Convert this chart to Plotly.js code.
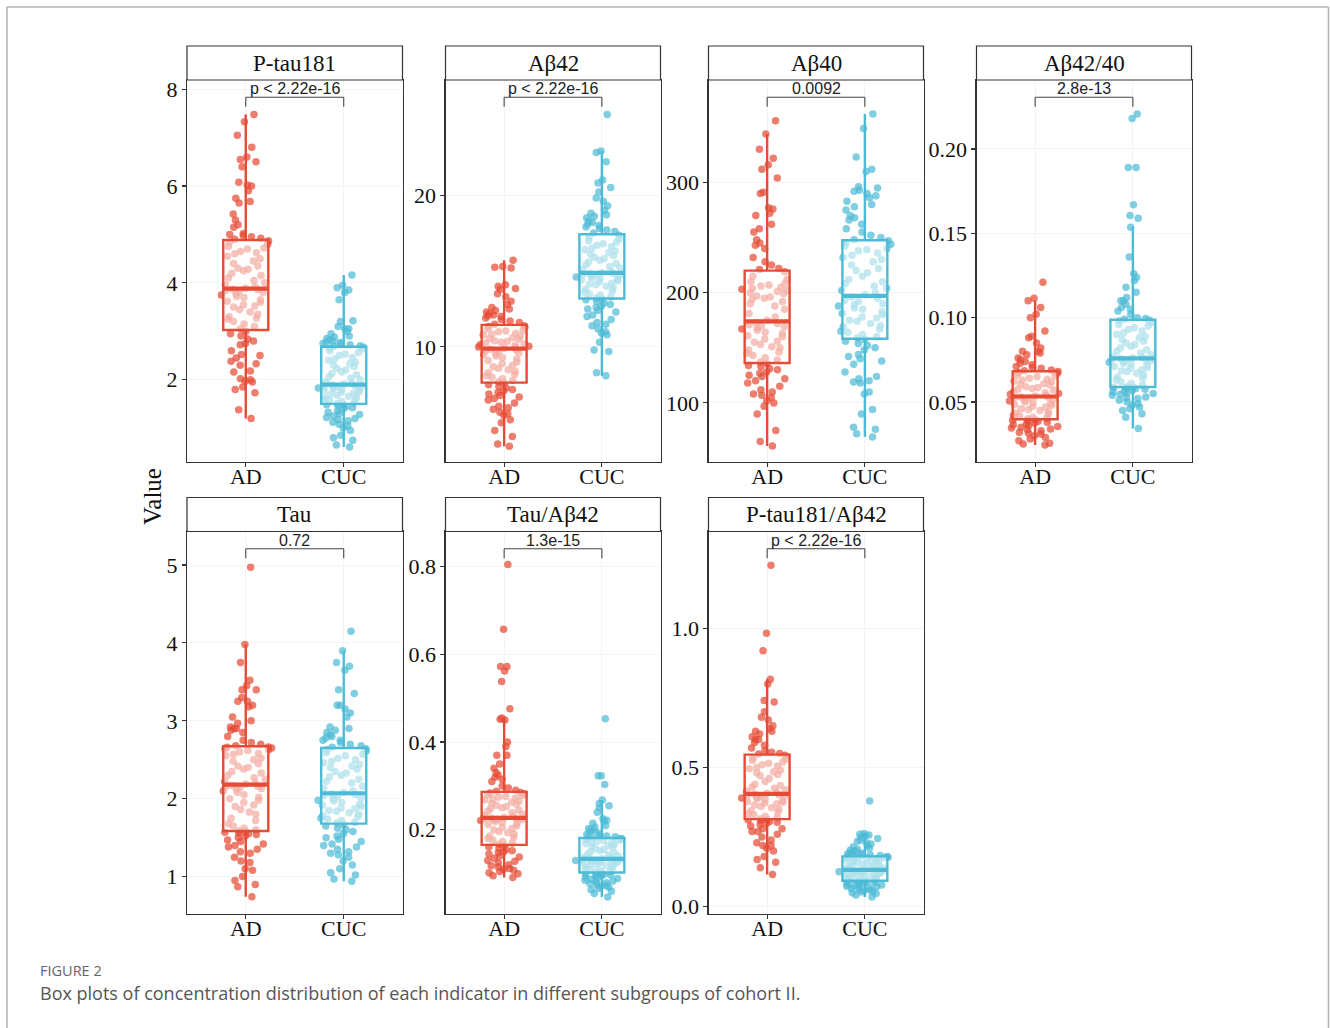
<!DOCTYPE html>
<html>
<head>
<meta charset="utf-8">
<script src="https://cdn.plot.ly/plotly-3.0.1.min.js"></script>
<style>html,body{margin:0;padding:0;background:#fff;}#chart{width:1330px;height:1028px;}</style>
</head>
<body>
<div id="chart"></div>
<script>
// ---------------- DATA ----------------
const groups = ['AD', 'CUC'];
const panelTitles = ['P-tau181', 'Aβ42', 'Aβ40', 'Aβ42/40', 'Tau', 'Tau/Aβ42', 'P-tau181/Aβ42'];
const pLabels = ['p < 2.22e-16', 'p < 2.22e-16', '0.0092', '2.8e-13', '0.72', '1.3e-15', 'p < 2.22e-16'];

const ptau181_AD = [1.2,1.38,1.73,1.8,1.85,1.95,1.97,2.0,2.02,2.16,2.18,2.3,2.33,2.38,2.45,2.5,2.52,2.6,2.72,2.75,2.8,2.84,2.9,2.95,3.0,
 3.05,3.1,3.15,3.2,3.25,3.27,3.3,3.35,3.4,3.45,3.5,3.52,3.55,3.6,3.62,3.65,3.7,3.72,3.75,3.78,3.8,3.82,3.84,3.86,3.87,
 3.89,3.92,3.96,4.0,4.05,4.1,4.15,4.2,4.25,4.28,4.3,4.35,4.4,4.45,4.5,4.55,4.6,4.62,4.65,4.7,4.72,4.75,4.8,4.84,4.87,
 4.9,4.92,4.95,4.98,5.0,5.02,5.15,5.2,5.3,5.42,5.65,5.68,5.75,5.9,6.0,6.02,6.08,6.4,6.5,6.55,6.6,6.8,7.05,7.33,7.48];
const ptau181_CUC = [0.61,0.65,0.75,0.8,0.85,0.95,1.0,1.05,1.08,1.12,1.15,1.18,1.2,1.22,1.25,1.28,1.3,1.33,1.36,1.4,1.42,1.44,1.46,1.48,1.49,
 1.51,1.53,1.55,1.57,1.59,1.6,1.62,1.64,1.66,1.68,1.7,1.72,1.74,1.75,1.77,1.78,1.8,1.82,1.83,1.84,1.85,1.86,1.87,1.88,1.89,
 1.91,1.93,1.96,2.0,2.03,2.06,2.1,2.13,2.16,2.2,2.23,2.27,2.3,2.33,2.36,2.4,2.43,2.46,2.5,2.53,2.56,2.6,2.63,2.65,2.67,
 2.69,2.7,2.72,2.74,2.75,2.77,2.78,2.8,2.82,2.85,2.88,2.9,2.95,3.0,3.05,3.05,3.1,3.2,3.22,3.65,3.8,3.85,3.9,3.95,4.16];

const ab42_AD = [3.45,3.6,4.1,4.5,5.0,5.2,5.5,5.6,5.7,5.9,6.0,6.1,6.3,6.5,6.6,6.7,6.8,6.9,7.0,7.1,7.2,7.3,7.4,7.5,7.6,
 7.7,7.8,7.9,8.0,8.1,8.2,8.3,8.4,8.5,8.6,8.7,8.8,8.9,9.0,9.1,9.2,9.3,9.4,9.5,9.55,9.6,9.7,9.75,9.8,9.85,
 9.92,9.96,10.0,10.05,10.1,10.15,10.2,10.25,10.3,10.35,10.4,10.5,10.55,10.6,10.7,10.8,10.85,10.9,11.0,11.05,11.1,11.2,11.3,11.35,11.4,
 11.5,11.6,11.7,11.8,11.9,12.0,12.05,12.1,12.2,12.3,12.4,12.5,12.6,12.8,13.0,13.3,13.5,13.8,13.85,14.0,14.1,15.2,15.25,15.3,15.7];
const ab42_CUC = [8.1,8.3,9.7,9.8,10.3,10.8,10.9,11.0,11.2,11.4,11.5,11.6,11.8,12.0,12.1,12.3,12.4,12.5,12.6,12.7,12.8,12.9,13.0,13.1,13.15,
 13.22,13.3,13.4,13.5,13.6,13.7,13.8,13.9,14.0,14.1,14.15,14.2,14.3,14.35,14.4,14.45,14.5,14.55,14.6,14.65,14.7,14.75,14.8,14.83,14.86,
 14.9,15.0,15.1,15.2,15.3,15.4,15.5,15.6,15.7,15.8,15.9,16.0,16.1,16.2,16.3,16.4,16.5,16.6,16.7,16.8,16.9,17.0,17.1,17.2,17.35,
 17.5,17.6,17.7,17.8,17.9,18.0,18.1,18.2,18.3,18.5,18.6,18.7,18.8,19.0,19.3,19.6,19.8,20.2,20.5,20.8,21.0,22.2,22.8,22.9,25.3];

const ab40_AD = [61,65,75,90,97,100,102,105,107,108,110,112,115,118,120,122,124,125,127,128,130,131,133,134,135.5,
 137,139,141,143,145,146,148,150,151,153,155,156,158,160,161,163,164,166,167,168,169,170,171,172,173,
 175,178,181,185,188,190,192,194,195,196,197,199,200,201,202,203,204,205,206,207,208,210,212,215,219,
 221,222,225,228,232,240,243,245,248,255,258,262,270,272,276,277,290,291,304,312,316,322,330,344,356];
const ab40_CUC = [69,72,76,78,90,94,108,110,118,119,120,122,124,128,135,138,140,142,144,148,150,152,154,156,157.5,
 159,160,162,164,165,167,169,170,172,174,175,177,178,180,181,183,185,186,188,189,190,192,193,195,196,
 198,200,202,204,206,208,210,212,215,218,220,222,225,228,230,232,234,236,238,239,240,242,244,245,247,
 248,250,252,255,258,262,266,268,270,275,278,280,283,286,288,290,292,293,295,296,310,312,323,349,362];

const ab4240_AD = [0.0245,0.025,0.0255,0.027,0.028,0.029,0.030,0.031,0.0315,0.032,0.033,0.0335,0.034,0.0345,0.035,0.0355,0.036,0.0365,0.037,0.0375,0.038,0.0385,0.039,0.0392,0.0395,
 0.040,0.0405,0.041,0.0415,0.042,0.043,0.0435,0.044,0.045,0.0455,0.046,0.047,0.0475,0.048,0.0485,0.049,0.0495,0.050,0.0505,0.051,0.0515,0.052,0.0525,0.0528,0.053,
 0.0535,0.054,0.0545,0.055,0.0555,0.056,0.057,0.0575,0.058,0.0585,0.059,0.060,0.0605,0.061,0.062,0.0625,0.063,0.0635,0.064,0.065,0.0655,0.066,0.067,0.0675,0.068,
 0.0685,0.069,0.070,0.0705,0.071,0.072,0.073,0.074,0.075,0.076,0.078,0.079,0.080,0.080,0.082,0.085,0.088,0.089,0.092,0.100,0.102,0.106,0.110,0.1115,0.121];
const ab4240_CUC = [0.0342,0.041,0.043,0.045,0.046,0.047,0.048,0.049,0.050,0.051,0.052,0.0525,0.053,0.054,0.0545,0.055,0.0555,0.056,0.0565,0.057,0.0575,0.058,0.0583,0.0585,0.0588,
 0.059,0.060,0.061,0.062,0.063,0.064,0.065,0.066,0.067,0.068,0.0685,0.069,0.070,0.0705,0.071,0.072,0.0725,0.073,0.0735,0.074,0.0745,0.075,0.0752,0.0755,0.0757,
 0.076,0.0765,0.077,0.078,0.079,0.080,0.081,0.082,0.083,0.084,0.085,0.086,0.087,0.088,0.089,0.090,0.091,0.092,0.093,0.094,0.095,0.096,0.097,0.098,0.0985,
 0.099,0.0995,0.100,0.102,0.104,0.105,0.106,0.108,0.110,0.110,0.112,0.115,0.118,0.122,0.124,0.126,0.136,0.1536,0.159,0.1605,0.167,0.189,0.189,0.218,0.2207];

const tau_AD = [0.74,0.87,0.9,0.95,1.0,1.08,1.1,1.18,1.2,1.25,1.3,1.32,1.35,1.38,1.4,1.42,1.45,1.47,1.5,1.52,1.54,1.55,1.56,1.57,1.58,
 1.59,1.6,1.62,1.65,1.68,1.72,1.75,1.8,1.83,1.86,1.9,1.92,1.95,1.98,2.0,2.02,2.05,2.08,2.1,2.12,2.13,2.14,2.15,2.16,2.17,
 2.19,2.2,2.22,2.25,2.27,2.3,2.33,2.35,2.38,2.4,2.42,2.45,2.48,2.5,2.52,2.55,2.57,2.58,2.6,2.62,2.63,2.64,2.65,2.66,2.665,
 2.68,2.7,2.72,2.75,2.8,2.85,2.88,2.9,2.9,2.92,2.97,3.0,3.05,3.18,3.2,3.25,3.25,3.3,3.4,3.4,3.45,3.52,3.75,3.98,4.97];
const tau_CUC = [0.94,0.97,1.02,1.05,1.1,1.15,1.2,1.25,1.28,1.3,1.32,1.35,1.38,1.4,1.42,1.45,1.48,1.5,1.52,1.55,1.58,1.6,1.62,1.65,1.67,
 1.69,1.7,1.72,1.74,1.75,1.77,1.78,1.8,1.82,1.84,1.85,1.87,1.88,1.9,1.92,1.93,1.95,1.97,1.98,2.0,2.01,2.03,2.04,2.05,2.06,
 2.08,2.1,2.13,2.16,2.2,2.22,2.25,2.28,2.3,2.33,2.35,2.38,2.4,2.42,2.44,2.46,2.48,2.5,2.52,2.55,2.57,2.59,2.61,2.63,2.64,
 2.66,2.68,2.7,2.72,2.75,2.75,2.78,2.8,2.82,2.85,2.88,2.9,2.92,3.05,3.1,3.15,3.2,3.2,3.35,3.4,3.65,3.7,3.75,3.9,4.15];

const tauab42_AD = [0.0913,0.095,0.1,0.102,0.105,0.108,0.11,0.112,0.115,0.118,0.12,0.125,0.128,0.13,0.135,0.138,0.14,0.145,0.148,0.15,0.152,0.155,0.158,0.161,0.164,
 0.167,0.17,0.173,0.176,0.18,0.183,0.186,0.19,0.193,0.196,0.2,0.203,0.206,0.209,0.212,0.215,0.217,0.219,0.221,0.222,0.223,0.224,0.225,0.2255,0.226,
 0.228,0.23,0.233,0.236,0.239,0.242,0.245,0.248,0.25,0.253,0.256,0.258,0.26,0.263,0.265,0.268,0.27,0.272,0.274,0.276,0.278,0.28,0.282,0.284,0.285,
 0.288,0.29,0.295,0.3,0.31,0.315,0.32,0.325,0.33,0.34,0.35,0.37,0.37,0.39,0.4,0.45,0.452,0.455,0.476,0.538,0.562,0.572,0.572,0.657,0.805];
const tauab42_CUC = [0.047,0.055,0.06,0.063,0.066,0.069,0.071,0.073,0.075,0.077,0.079,0.081,0.083,0.085,0.087,0.089,0.09,0.092,0.094,0.095,0.097,0.098,0.099,0.1,0.102,
 0.1035,0.105,0.107,0.109,0.111,0.113,0.115,0.117,0.118,0.12,0.121,0.122,0.124,0.125,0.126,0.127,0.128,0.129,0.13,0.131,0.1315,0.132,0.1325,0.133,0.1335,
 0.134,0.136,0.138,0.14,0.143,0.145,0.148,0.15,0.152,0.155,0.157,0.16,0.162,0.164,0.166,0.168,0.17,0.172,0.174,0.175,0.176,0.177,0.178,0.179,0.1805,
 0.182,0.184,0.186,0.188,0.19,0.192,0.195,0.198,0.2,0.203,0.206,0.21,0.215,0.22,0.222,0.225,0.24,0.25,0.255,0.26,0.268,0.303,0.323,0.323,0.453];

const ptauab42_AD = [0.116,0.14,0.16,0.17,0.18,0.2,0.21,0.22,0.22,0.23,0.24,0.25,0.26,0.27,0.27,0.28,0.28,0.29,0.295,0.3,0.303,0.306,0.309,0.311,0.313,
 0.316,0.32,0.325,0.33,0.335,0.34,0.345,0.35,0.355,0.36,0.365,0.37,0.372,0.375,0.378,0.38,0.385,0.388,0.39,0.393,0.396,0.398,0.4,0.402,0.404,
 0.407,0.41,0.415,0.42,0.425,0.43,0.435,0.44,0.45,0.46,0.47,0.475,0.48,0.485,0.49,0.495,0.5,0.505,0.51,0.515,0.52,0.525,0.53,0.535,0.544,
 0.548,0.55,0.555,0.56,0.57,0.58,0.59,0.6,0.6,0.61,0.62,0.63,0.63,0.64,0.65,0.67,0.68,0.7,0.735,0.74,0.8,0.817,0.919,0.982,1.226];
const ptauab42_CUC = [0.035,0.042,0.048,0.05,0.053,0.055,0.058,0.06,0.062,0.065,0.067,0.07,0.072,0.074,0.076,0.078,0.08,0.082,0.084,0.086,0.088,0.089,0.09,0.092,0.093,
 0.094,0.096,0.098,0.1,0.102,0.104,0.106,0.108,0.11,0.112,0.114,0.116,0.118,0.12,0.121,0.122,0.124,0.125,0.126,0.127,0.128,0.129,0.13,0.131,0.1315,
 0.133,0.135,0.138,0.14,0.143,0.145,0.148,0.15,0.152,0.155,0.157,0.16,0.162,0.164,0.166,0.168,0.17,0.172,0.174,0.175,0.176,0.177,0.178,0.179,0.18,
 0.182,0.184,0.186,0.188,0.19,0.192,0.195,0.198,0.2,0.203,0.206,0.21,0.215,0.22,0.225,0.23,0.235,0.24,0.245,0.25,0.255,0.258,0.26,0.263,0.38];

const panelData = [
  [ptau181_AD, ptau181_CUC], [ab42_AD, ab42_CUC], [ab40_AD, ab40_CUC], [ab4240_AD, ab4240_CUC],
  [tau_AD, tau_CUC], [tauab42_AD, tauab42_CUC], [ptauab42_AD, ptauab42_CUC]
];

// ---------------- STYLE / LAYOUT CONFIG ----------------
const W = 1330, H = 1028;
const colors = ['#E64B35', '#4DBBD5'];
const colX = [[187, 402.5], [445.5, 660.5], [708.5, 923.5], [976.5, 1191.5]];
const rowY = [{strip: [46, 80], plot: [80, 462]}, {strip: [497.5, 531.5], plot: [531.5, 914]}];
const axisCfg = [
  {range: [0.30, 8.19], dtick: 2, fmt: ''},
  {range: [2.42, 27.58], dtick: 10, fmt: ''},
  {range: [46.4, 392.9], dtick: 100, fmt: ''},
  {range: [0.0144, 0.2409], dtick: 0.05, fmt: '.2f'},
  {range: [0.52, 5.43], dtick: 1, fmt: ''},
  {range: [0.008, 0.88], dtick: 0.2, fmt: '.1f'},
  {range: [-0.026, 1.347], dtick: 0.5, fmt: '.1f'}
];
const serif = 'Liberation Serif, Times New Roman, serif';
const sans = 'Liberation Sans, Arial, sans-serif';
const frameCol = '#333333';
const boxW = 0.46;
const jitterW = 0.55;

function median(a) {
  const s = a.slice().sort((p, q) => p - q);
  const n = s.length;
  return n % 2 ? s[(n - 1) / 2] : (s[n / 2 - 1] + s[n / 2]) / 2;
}

const traces = [];
const shapes = [];
const annotations = [];
const layout = {
  width: W, height: H,
  margin: {l: 0, r: 0, t: 0, b: 0},
  paper_bgcolor: '#ffffff', plot_bgcolor: '#ffffff',
  showlegend: false,
  boxmode: 'overlay',
  hovermode: false
};

panelData.forEach((pair, i) => {
  const k = i + 1;
  const row = i < 4 ? 0 : 1;
  const col = i < 4 ? i : i - 4;
  const [x0, x1] = colX[col];
  const ry = rowY[row];
  const xa = 'x' + (k === 1 ? '' : k), ya = 'y' + (k === 1 ? '' : k);
  const xKey = 'xaxis' + (k === 1 ? '' : k), yKey = 'yaxis' + (k === 1 ? '' : k);
  const cfg = axisCfg[i];

  layout[xKey] = {
    domain: [x0 / W, x1 / W], anchor: ya, type: 'linear',
    range: [-0.6, 1.6], tickvals: [0, 1], ticktext: groups,
    showline: true, mirror: true, linecolor: frameCol, linewidth: 1.2,
    ticks: 'outside', ticklen: 4, tickwidth: 1.1, tickcolor: frameCol,
    ticklabelstandoff: -10,
    tickfont: {family: serif, size: 22, color: '#111'},
    showgrid: true, gridcolor: '#f4f4f4', gridwidth: 1, zeroline: false, fixedrange: true
  };
  layout[yKey] = {
    domain: [1 - ry.plot[1] / H, 1 - ry.plot[0] / H], anchor: xa, type: 'linear',
    range: cfg.range, dtick: cfg.dtick, tick0: 0, tickformat: cfg.fmt,
    showline: true, mirror: true, linecolor: frameCol, linewidth: 1.2,
    ticks: 'outside', ticklen: 4, tickwidth: 1.1, tickcolor: frameCol,
    tickfont: {family: serif, size: 22, color: '#111'},
    showgrid: true, gridcolor: '#f4f4f4', gridwidth: 1, zeroline: false, fixedrange: true
  };

  pair.forEach((vals, g) => {
    // jittered points
    traces.push({
      type: 'box', y: vals, x0: g, xaxis: xa, yaxis: ya, width: jitterW,
      boxpoints: 'all', jitter: 1, pointpos: 0,
      marker: {color: colors[g], size: 7.5, opacity: 0.72, line: {width: 0}},
      line: {width: 0, color: 'rgba(0,0,0,0)'}, fillcolor: 'rgba(0,0,0,0)',
      whiskerwidth: 0, hoverinfo: 'skip'
    });
  });
  pair.forEach((vals, g) => {
    // box with semi-transparent white fill on top of points
    traces.push({
      type: 'box', y: vals, x0: g, xaxis: xa, yaxis: ya, width: boxW,
      boxpoints: 'outliers', marker: {opacity: 0, size: 1},
      line: {width: 2.4, color: colors[g]}, fillcolor: 'rgba(255,255,255,0.55)',
      whiskerwidth: 0, hoverinfo: 'skip'
    });
  });
  pair.forEach((vals, g) => {
    const m = median(vals);
    traces.push({
      type: 'scatter', mode: 'lines', xaxis: xa, yaxis: ya,
      x: [g - boxW / 2, g + boxW / 2], y: [m, m],
      line: {color: colors[g], width: 4.2}, hoverinfo: 'skip'
    });
  });

  // strip
  shapes.push({type: 'rect', xref: 'paper', yref: 'paper',
    x0: x0 / W, x1: x1 / W, y0: 1 - ry.strip[1] / H, y1: 1 - ry.strip[0] / H,
    fillcolor: '#ffffff', line: {color: frameCol, width: 1.2}});
  annotations.push({xref: 'paper', yref: 'paper', x: (x0 + x1) / 2 / W,
    y: 1 - (ry.strip[0] + ry.strip[1]) / 2 / H, xanchor: 'center', yanchor: 'middle',
    text: panelTitles[i], showarrow: false, font: {family: serif, size: 23, color: '#111'}});

  // significance bracket
  const yb = 0.955, yt = 0.930;
  const br = {xref: xa, yref: ya + ' domain', line: {color: '#444', width: 1.1}, type: 'line'};
  shapes.push(Object.assign({}, br, {x0: 0, x1: 1, y0: yb, y1: yb}));
  shapes.push(Object.assign({}, br, {x0: 0, x1: 0, y0: yb, y1: yt}));
  shapes.push(Object.assign({}, br, {x0: 1, x1: 1, y0: yb, y1: yt}));
  annotations.push({xref: xa, yref: ya + ' domain', x: 0.5, y: yb, yshift: -2,
    xanchor: 'center', yanchor: 'bottom', text: pLabels[i], showarrow: false,
    font: {family: sans, size: 16, color: '#222'}});
});

// y-axis title
annotations.push({xref: 'paper', yref: 'paper', x: 152 / W, y: 1 - 497 / H,
  xanchor: 'center', yanchor: 'middle', textangle: -90, text: 'Value', showarrow: false,
  font: {family: serif, size: 25, color: '#111'}});

// caption
annotations.push({xref: 'paper', yref: 'paper', x: 38 / W, y: 1 - 970 / H,
  xanchor: 'left', yanchor: 'middle', text: 'FIGURE 2', showarrow: false,
  font: {family: 'Open Sans, Noto Sans, sans-serif', size: 14.5, color: '#666'}});
annotations.push({xref: 'paper', yref: 'paper', x: 38 / W, y: 1 - 993 / H,
  xanchor: 'left', yanchor: 'middle',
  text: 'Box plots of concentration distribution of each indicator in different subgroups of cohort II.',
  showarrow: false, font: {family: 'Open Sans, Noto Sans, sans-serif', size: 18, color: '#555'}});

// outer frame
const fr = {type: 'line', xref: 'paper', yref: 'paper', line: {color: '#b4b4b4', width: 1.6}};
shapes.push(Object.assign({}, fr, {x0: 7 / W, x1: 1328.5 / W, y0: 1 - 7 / H, y1: 1 - 7 / H}));
shapes.push(Object.assign({}, fr, {x0: 7 / W, x1: 7 / W, y0: 1 - 7 / H, y1: 0}));
shapes.push(Object.assign({}, fr, {x0: 1328.5 / W, x1: 1328.5 / W, y0: 1 - 7 / H, y1: 0}));

layout.shapes = shapes;
layout.annotations = annotations;

Plotly.newPlot('chart', traces, layout, {staticPlot: true, displayModeBar: false});
</script>
</body>
</html>
